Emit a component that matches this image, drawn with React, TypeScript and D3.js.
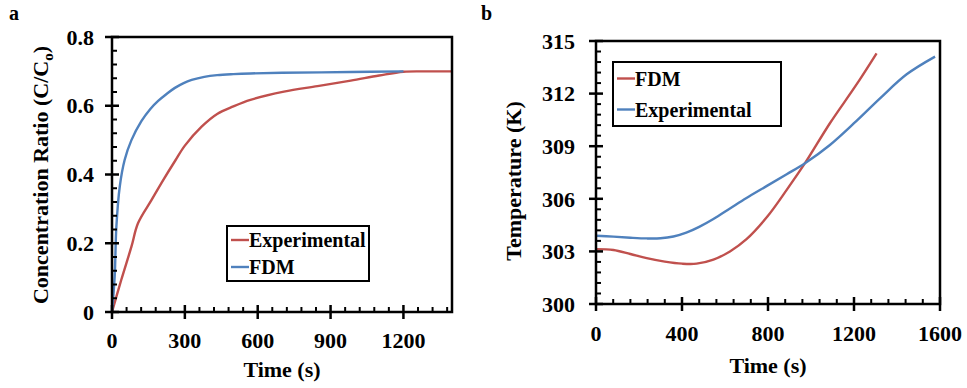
import React from "react";
import * as d3 from "d3";

// Panel a: concentration ratio
const aExpTime = [0, 38, 80, 107, 163, 212, 260, 300, 369, 433, 500, 570, 708, 846, 983, 1100, 1200, 1300, 1400];
const aExpVal = [0, 0.093, 0.19, 0.258, 0.326, 0.385, 0.44, 0.484, 0.539, 0.576, 0.598, 0.617, 0.641, 0.657, 0.673, 0.688, 0.699, 0.7, 0.7];
const aFdmTime = [0, 11, 18, 32, 52, 80, 121, 157, 190, 226, 259, 295, 328, 380, 433, 500, 570, 700, 983, 1200];
const aFdmVal = [0, 0.103, 0.248, 0.365, 0.442, 0.5, 0.555, 0.59, 0.614, 0.635, 0.652, 0.666, 0.675, 0.684, 0.689, 0.692, 0.694, 0.696, 0.698, 0.7];
const aXTicks = [0, 300, 600, 900, 1200];
const aYTicks = [0, 0.2, 0.4, 0.6, 0.8];
const aYLabels = ["0", "0.2", "0.4", "0.6", "0.8"];

// Panel b: temperature
const bFdmTime = [0, 81, 160, 236, 320, 401, 468, 546, 623, 700, 797, 887, 972, 1088, 1208, 1305];
const bFdmVal = [303.13, 303.08, 302.85, 302.62, 302.42, 302.3, 302.3, 302.53, 303.0, 303.7, 304.99, 306.51, 308.03, 310.31, 312.45, 314.3];
const bExpTime = [0, 81, 160, 236, 300, 360, 420, 480, 546, 623, 700, 797, 887, 972, 1088, 1208, 1321, 1445, 1577];
const bExpVal = [303.89, 303.84, 303.78, 303.74, 303.75, 303.85, 304.07, 304.4, 304.85, 305.45, 306.05, 306.75, 307.4, 308.03, 309.07, 310.4, 311.73, 313.1, 314.11];
const bXTicks = [0, 400, 800, 1200, 1600];
const bYTicks = [300, 303, 306, 309, 312, 315];

const RED = "#C0504D";
const BLUE = "#4F81BD";
const FONT = "'Liberation Serif', 'Times New Roman', serif";

type Series = { t: number[]; v: number[]; color: string };

function Panel(props: {
  left: number; right: number; top: number; bottom: number;
  xMax: number; yMin: number; yMax: number;
  xTicks: number[]; yTicks: number[]; yLabels: string[];
  xMinorStep: number; yMinorStep: number;
  series: Series[];
  xLabelY: number; yLabelRight: number; xTitleY: number; yTitleX: number; yTitleY: number;
  yTitle: React.ReactNode;
  legend: { x: number; y: number; w: number; h: number; gap: number; items: { name: string; color: string }[] };
  letter: string; letterX: number;
}) {
  const p = props;
  const x = d3.scaleLinear().domain([0, p.xMax]).range([p.left, p.right]);
  const y = d3.scaleLinear().domain([p.yMin, p.yMax]).range([p.bottom, p.top]);
  const line = d3.line<[number, number]>().x(d => x(d[0])).y(d => y(d[1])).curve(d3.curveCatmullRom.alpha(0.5));
  const xMinor = d3.range(0, p.xMax + 1e-9, p.xMinorStep).filter(v => !p.xTicks.some(t => Math.abs(t - v) < 1e-6));
  const yMinor = d3.range(p.yMin, p.yMax + 1e-9, p.yMinorStep).filter(v => !p.yTicks.some(t => Math.abs(t - v) < 1e-6));
  return (
    <g>
      <text x={p.letterX} y={20} fontFamily={FONT} fontWeight="bold" fontSize={20}>{p.letter}</text>
      {p.series.map((s, i) => (
        <path key={i} d={line(s.t.map((t, j) => [t, s.v[j]] as [number, number])) || ""}
          fill="none" stroke={s.color} strokeWidth={2.4} />
      ))}
      <rect x={p.left} y={p.top} width={p.right - p.left} height={p.bottom - p.top}
        fill="none" stroke="#000" strokeWidth={2.5} />
      {p.xTicks.map(t => (
        <line key={"xt" + t} x1={x(t)} x2={x(t)} y1={p.bottom - 7} y2={p.bottom + 7} stroke="#000" strokeWidth={2.5} />
      ))}
      {xMinor.map(t => (
        <line key={"xm" + t} x1={x(t)} x2={x(t)} y1={p.bottom - 5} y2={p.bottom} stroke="#000" strokeWidth={2} />
      ))}
      {p.yTicks.map(t => (
        <line key={"yt" + t} x1={p.left - 7} x2={p.left + 7} y1={y(t)} y2={y(t)} stroke="#000" strokeWidth={2.5} />
      ))}
      {yMinor.map(t => (
        <line key={"ym" + t} x1={p.left} x2={p.left + 5} y1={y(t)} y2={y(t)} stroke="#000" strokeWidth={2} />
      ))}
      {p.xTicks.map(t => (
        <text key={"xl" + t} x={x(t)} y={p.xLabelY} textAnchor="middle" fontFamily={FONT} fontWeight="bold" fontSize={22}>{t}</text>
      ))}
      {p.yTicks.map((t, i) => (
        <text key={"yl" + t} x={p.yLabelRight} y={y(t)} dy="0.35em" textAnchor="end" fontFamily={FONT} fontWeight="bold" fontSize={22}>{p.yLabels[i]}</text>
      ))}
      <text x={(p.left + p.right) / 2} y={p.xTitleY} textAnchor="middle" fontFamily={FONT} fontWeight="bold" fontSize={22}>Time (s)</text>
      <text transform={`translate(${p.yTitleX},${p.yTitleY}) rotate(-90)`} textAnchor="middle" fontFamily={FONT} fontWeight="bold" fontSize={22}>{p.yTitle}</text>
      <rect x={p.legend.x} y={p.legend.y} width={p.legend.w} height={p.legend.h} fill="#fff" stroke="#000" strokeWidth={2} />
      {p.legend.items.map((it, i) => {
        const ly = p.legend.y + p.legend.h / 2 + (i - (p.legend.items.length - 1) / 2) * p.legend.gap;
        return (
          <g key={it.name}>
            <line x1={p.legend.x + 4} x2={p.legend.x + 22} y1={ly} y2={ly} stroke={it.color} strokeWidth={2.4} />
            <text x={p.legend.x + 22} y={ly} dy="0.35em" fontFamily={FONT} fontWeight="bold" fontSize={20}>{it.name}</text>
          </g>
        );
      })}
    </g>
  );
}

export default function App() {
  return (
    <svg width={967} height={388} style={{ position: "absolute", left: 0, top: 0, background: "#fff" }}>
      <Panel
        left={112} right={452} top={37} bottom={312}
        xMax={1400} yMin={0} yMax={0.8}
        xTicks={aXTicks} yTicks={aYTicks} yLabels={aYLabels}
        xMinorStep={60} yMinorStep={0.04}
        series={[
          { t: aExpTime, v: aExpVal, color: RED },
          { t: aFdmTime, v: aFdmVal, color: BLUE },
        ]}
        xLabelY={348} yLabelRight={94} xTitleY={377} yTitleX={48} yTitleY={175}
        yTitle={<>Concentration Ratio (C/C<tspan dy={5} fontSize={15}>o</tspan><tspan dy={-5}>)</tspan></>}
        legend={{ x: 227, y: 226, w: 142, h: 55, gap: 27, items: [{ name: "Experimental", color: RED }, { name: "FDM", color: BLUE }] }}
        letter="a" letterX={9}
      />
      <Panel
        left={596} right={940} top={41} bottom={304}
        xMax={1600} yMin={300} yMax={315}
        xTicks={bXTicks} yTicks={bYTicks} yLabels={bYTicks.map(String)}
        xMinorStep={80} yMinorStep={0.6}
        series={[
          { t: bFdmTime, v: bFdmVal, color: RED },
          { t: bExpTime, v: bExpVal, color: BLUE },
        ]}
        xLabelY={341} yLabelRight={575} xTitleY={373} yTitleX={521} yTitleY={181}
        yTitle={<>Temperature (K)</>}
        legend={{ x: 613, y: 62, w: 168, h: 64, gap: 31, items: [{ name: "FDM", color: RED }, { name: "Experimental", color: BLUE }] }}
        letter="b" letterX={481}
      />
    </svg>
  );
}
